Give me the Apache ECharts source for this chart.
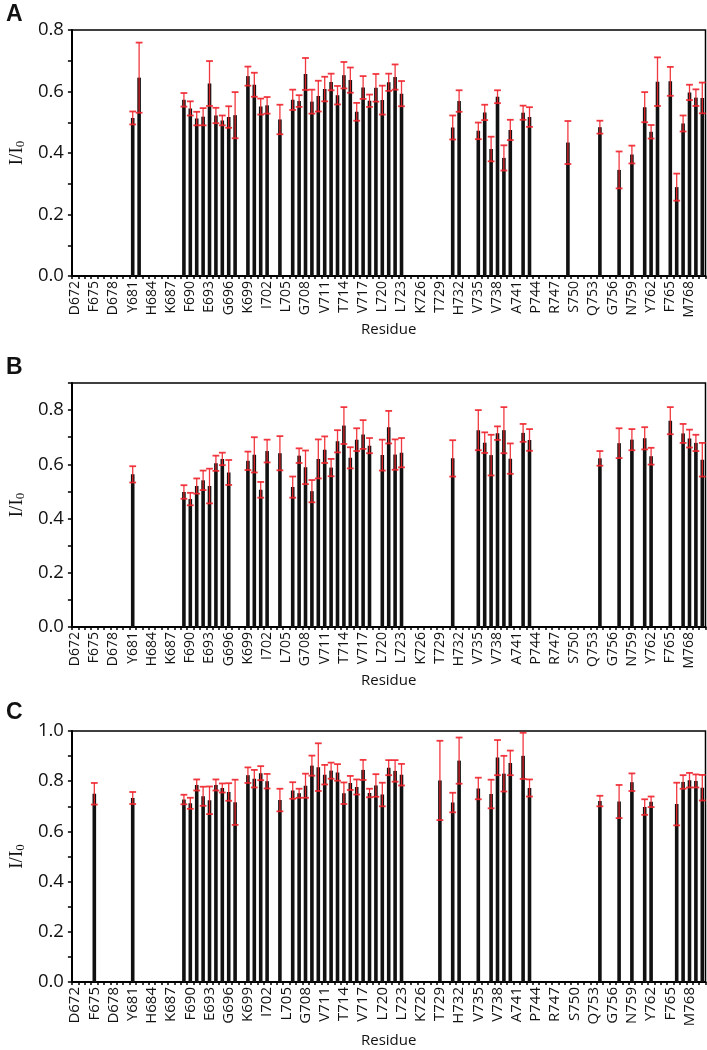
<!DOCTYPE html>
<html>
<head>
<meta charset="utf-8">
<script src="https://cdn.jsdelivr.net/npm/echarts@6/dist/echarts.min.js"></script>
<style>
html,body{margin:0;padding:0;background:#fff;}
#chart{width:707px;height:1050px;}
</style>
</head>
<body>
<div id="chart"></div>
<script>
// ---- categories ----
const firstResidue = 672;
const lastResidue = 770;
const tickLabels = ['D672','F675','D678','Y681','H684','K687','F690','E693','G696','K699','I702','L705','G708','V711','T714','V717','L720','L723','K726','T729','H732','V735','V738','A741','P744','R747','S750','Q753','G756','N759','Y762','F765','M768'];

// ---- panel A ----
const residuesA = [681,682,689,690,691,692,693,694,695,696,697,699,700,701,702,704,706,707,708,709,710,711,712,713,714,715,716,717,718,719,720,721,722,723,731,732,735,736,737,738,739,740,742,743,749,754,757,759,761,762,763,765,766,767,768,769,770];
const valuesA = [0.514,0.645,0.573,0.545,0.512,0.518,0.626,0.522,0.506,0.517,0.523,0.650,0.622,0.551,0.555,0.509,0.573,0.569,0.657,0.567,0.585,0.608,0.631,0.588,0.653,0.637,0.534,0.613,0.570,0.612,0.572,0.630,0.647,0.593,0.483,0.569,0.472,0.532,0.413,0.583,0.384,0.475,0.531,0.517,0.434,0.484,0.345,0.395,0.549,0.469,0.632,0.633,0.289,0.496,0.597,0.580,0.579];
const errorsA = [0.021,0.114,0.022,0.023,0.022,0.028,0.073,0.025,0.016,0.035,0.075,0.031,0.039,0.026,0.027,0.048,0.033,0.019,0.052,0.039,0.050,0.040,0.027,0.030,0.043,0.041,0.029,0.037,0.020,0.045,0.047,0.028,0.041,0.041,0.039,0.035,0.027,0.025,0.040,0.021,0.041,0.033,0.023,0.032,0.070,0.021,0.060,0.029,0.049,0.022,0.079,0.047,0.044,0.026,0.025,0.027,0.050];

// ---- panel B ----
const residuesB = [681,689,690,691,692,693,694,695,696,699,700,701,702,704,706,707,708,709,710,711,712,713,714,715,716,717,718,720,721,722,723,731,735,736,737,738,739,740,742,743,754,757,759,761,762,765,767,768,769,770];
const valuesB = [0.563,0.498,0.472,0.520,0.541,0.520,0.604,0.620,0.570,0.613,0.635,0.506,0.649,0.641,0.516,0.632,0.589,0.501,0.620,0.654,0.588,0.685,0.743,0.624,0.691,0.710,0.669,0.634,0.737,0.636,0.643,0.622,0.726,0.680,0.634,0.715,0.726,0.621,0.716,0.690,0.622,0.678,0.691,0.696,0.630,0.761,0.714,0.695,0.679,0.617];
const errorsB = [0.030,0.025,0.023,0.028,0.036,0.064,0.028,0.023,0.046,0.034,0.065,0.029,0.042,0.063,0.039,0.027,0.062,0.041,0.072,0.049,0.032,0.041,0.068,0.039,0.042,0.053,0.028,0.057,0.060,0.056,0.054,0.067,0.074,0.038,0.075,0.025,0.085,0.056,0.033,0.040,0.027,0.055,0.039,0.041,0.031,0.050,0.035,0.033,0.030,0.062];

// ---- panel C ----
const residuesC = [675,681,689,690,691,692,693,694,695,696,697,699,700,701,702,704,706,707,708,709,710,711,712,713,714,715,716,717,718,719,720,721,722,723,729,731,732,735,737,738,739,740,742,743,754,757,759,761,762,766,767,768,769,770];
const valuesC = [0.750,0.733,0.727,0.712,0.785,0.740,0.724,0.785,0.773,0.757,0.716,0.824,0.810,0.832,0.800,0.725,0.763,0.752,0.782,0.862,0.856,0.826,0.842,0.835,0.752,0.793,0.777,0.845,0.753,0.783,0.747,0.854,0.841,0.826,0.803,0.715,0.882,0.771,0.749,0.894,0.830,0.873,0.901,0.773,0.721,0.719,0.796,0.697,0.718,0.709,0.797,0.804,0.801,0.774];
const errorsC = [0.043,0.024,0.019,0.022,0.022,0.038,0.055,0.022,0.018,0.035,0.090,0.031,0.035,0.028,0.029,0.045,0.033,0.018,0.048,0.040,0.095,0.039,0.032,0.033,0.043,0.028,0.030,0.040,0.017,0.045,0.047,0.030,0.043,0.043,0.158,0.039,0.092,0.043,0.057,0.070,0.071,0.049,0.092,0.034,0.021,0.066,0.035,0.031,0.021,0.085,0.027,0.029,0.026,0.051];

// ---- build categories ----
const categories = [];
for (let r = firstResidue; r <= lastResidue; r++) {
  const t = tickLabels.find(s => parseInt(s.slice(1), 10) === r);
  categories.push(t || String(r));
}
function barData(res, vals) {
  const arr = categories.map(() => '-');
  res.forEach((r, i) => { arr[r - firstResidue] = vals[i]; });
  return arr;
}
function errData(res, vals, errs) {
  return res.map((r, i) => [r - firstResidue, vals[i] - errs[i], vals[i] + errs[i]]);
}

const ERR_COLOR = '#f0222b';
function renderErr(params, api) {
  const x = api.value(0);
  const lo = api.coord([x, api.value(1)]);
  const hi = api.coord([x, api.value(2)]);
  const hw = 3.4;
  const st = { stroke: ERR_COLOR, lineWidth: 1.3, opacity: 0.9 };
  const cs = { stroke: ERR_COLOR, lineWidth: 1.8, opacity: 0.9 };
  return { type: 'group', children: [
    { type: 'line', shape: { x1: lo[0], y1: lo[1], x2: hi[0], y2: hi[1] }, style: st },
    { type: 'line', shape: { x1: lo[0] - hw, y1: lo[1], x2: lo[0] + hw, y2: lo[1] }, style: cs },
    { type: 'line', shape: { x1: hi[0] - hw, y1: hi[1], x2: hi[0] + hw, y2: hi[1] }, style: cs }
  ]};
}

const grids = [
  { left: 60, right: 1.5, top: 30, height: 246 },
  { left: 60, right: 1.5, top: 383, height: 244 },
  { left: 64, right: 1.5, top: 731, height: 251 }
];
const maxes = [0.8, 0.9, 1.0];
const labelSizes = [14, 14, 15];
const nameGaps = [46, 46, 51];
const FONT = 'Open Sans';

const xAxes = grids.map((g, i) => ({
  gridIndex: i, type: 'category', data: categories, boundaryGap: true,
  axisLine: { lineStyle: { color: '#000', width: 2 } },
  axisTick: { show: true, interval: 0, length: 3, lineStyle: { color: '#000', width: 1.5 } },
  axisLabel: { interval: 2, rotate: 90, fontSize: labelSizes[i], color: '#111', fontFamily: FONT, margin: 5,
               formatter: v => v },
  name: 'Residue', nameLocation: 'middle', nameGap: nameGaps[i],
  nameTextStyle: { fontSize: 15, color: '#111', fontFamily: FONT },
  splitLine: { show: false }
}));
const yAxes = grids.map((g, i) => ({
  gridIndex: i, type: 'value', min: 0, max: maxes[i], interval: 0.1,
  axisLine: { show: true, lineStyle: { color: '#000', width: 2 } },
  axisTick: { show: true, length: 4, lineStyle: { color: '#000', width: 1.5 } },
  axisLabel: { fontSize: 18.5, color: '#111', fontFamily: FONT, margin: 8,
               formatter: v => (Math.round(v * 10) % 2 === 0 ? v.toFixed(1) : '') },
  splitLine: { show: false },
  name: '{a|I/I}{b|0}', nameLocation: 'middle', nameGap: 44, nameRotate: 90,
  nameTextStyle: { rich: {
    a: { fontFamily: 'Liberation Serif', fontSize: 19, color: '#111' },
    b: { fontFamily: 'Liberation Serif', fontSize: 13, color: '#111', padding: [6, 0, 0, 0] }
  } }
}));

const sets = [
  [residuesA, valuesA, errorsA],
  [residuesB, valuesB, errorsB],
  [residuesC, valuesC, errorsC]
];
const series = [];
sets.forEach((s, i) => {
  series.push({ type: 'bar', xAxisIndex: i, yAxisIndex: i, data: barData(s[0], s[1]),
    barWidth: 3.6, itemStyle: { color: '#111' }, silent: true, animation: false });
  series.push({ type: 'custom', xAxisIndex: i, yAxisIndex: i, data: errData(s[0], s[1], s[2]),
    renderItem: renderErr, silent: true, animation: false, z: 5 });
});

const chart = echarts.init(document.getElementById('chart'), null, { renderer: 'canvas' });
chart.setOption({
  backgroundColor: '#fff',
  animation: false,
  grid: grids.map(g => Object.assign({ show: true, borderColor: '#000', borderWidth: 1.5, backgroundColor: 'transparent' }, g)),
  xAxis: xAxes,
  yAxis: yAxes,
  series: series,
  graphic: [
    { type: 'text', left: 6, top: 3, style: { text: 'A', fontSize: 23, fontWeight: 'bold', fontFamily: 'Liberation Sans', fill: '#111' } },
    { type: 'text', left: 6, top: 356, style: { text: 'B', fontSize: 23, fontWeight: 'bold', fontFamily: 'Liberation Sans', fill: '#111' } },
    { type: 'text', left: 6, top: 701, style: { text: 'C', fontSize: 23, fontWeight: 'bold', fontFamily: 'Liberation Sans', fill: '#111' } }
  ]
});
</script>
</body>
</html>
